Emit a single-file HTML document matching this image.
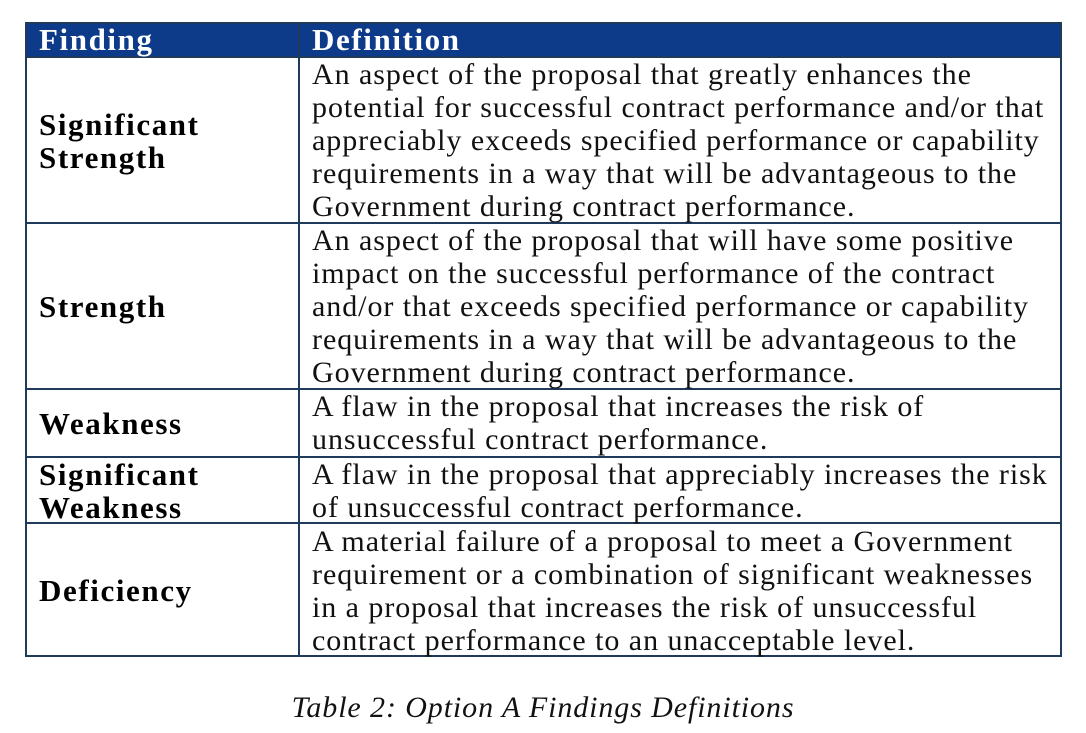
<!DOCTYPE html>
<html><head><style>
body{margin:0;width:1086px;height:733px;background:#fff;position:relative;overflow:hidden;font-family:"Liberation Serif",serif;}
.l{position:absolute;background:#1f3a5a}
.t{position:absolute;font-size:30px;line-height:33px;white-space:nowrap;color:#111;letter-spacing:0.95px}
.b{font-weight:bold;font-size:31px;letter-spacing:1.6px;color:#000}
</style></head><body>
<div style="position:absolute;left:25px;top:22px;width:1036px;height:35px;background:#0d3b8a"></div>
<div class="l" style="left:25px;top:22px;width:1037px;height:2px"></div>
<div class="l" style="left:25px;top:56px;width:1037px;height:2px"></div>
<div class="l" style="left:25px;top:222px;width:1037px;height:2px"></div>
<div class="l" style="left:25px;top:388px;width:1037px;height:2px"></div>
<div class="l" style="left:25px;top:456px;width:1037px;height:2px"></div>
<div class="l" style="left:25px;top:522px;width:1037px;height:2px"></div>
<div class="l" style="left:25px;top:655px;width:1037px;height:2px"></div>
<div class="l" style="left:25px;top:22px;width:2px;height:635px"></div>
<div class="l" style="left:298px;top:22px;width:2px;height:635px"></div>
<div class="l" style="left:1060px;top:22px;width:2px;height:635px"></div>

<div class="t b" style="left:39px;top:23px;color:#fff">Finding</div>
<div class="t b" style="left:312px;top:23px;color:#fff">Definition</div>

<div class="t b" style="left:39px;top:108px">Significant<br>Strength</div>
<div class="t" style="left:312px;top:58px">An aspect of the proposal that greatly enhances the<br>potential for successful contract performance and/or that<br>appreciably exceeds specified performance or capability<br>requirements in a way that will be advantageous to the<br>Government during contract performance.</div>

<div class="t b" style="left:39px;top:290px">Strength</div>
<div class="t" style="left:312px;top:224px">An aspect of the proposal that will have some positive<br>impact on the successful performance of the contract<br>and/or that exceeds specified performance or capability<br>requirements in a way that will be advantageous to the<br>Government during contract performance.</div>

<div class="t b" style="left:39px;top:407px">Weakness</div>
<div class="t" style="left:312px;top:390px">A flaw in the proposal that increases the risk of<br>unsuccessful contract performance.</div>

<div class="t b" style="left:39px;top:458px">Significant<br>Weakness</div>
<div class="t" style="left:312px;top:458px">A flaw in the proposal that appreciably increases the risk<br>of unsuccessful contract performance.</div>

<div class="t b" style="left:39px;top:574px">Deficiency</div>
<div class="t" style="left:312px;top:525px">A material failure of a proposal to meet a Government<br>requirement or a combination of significant weaknesses<br>in a proposal that increases the risk of unsuccessful<br>contract performance to an unacceptable level.</div>

<div class="t" style="left:0;width:1086px;text-align:center;top:691px;font-style:italic;letter-spacing:0.9px">Table 2: Option A Findings Definitions</div>
</body></html>
